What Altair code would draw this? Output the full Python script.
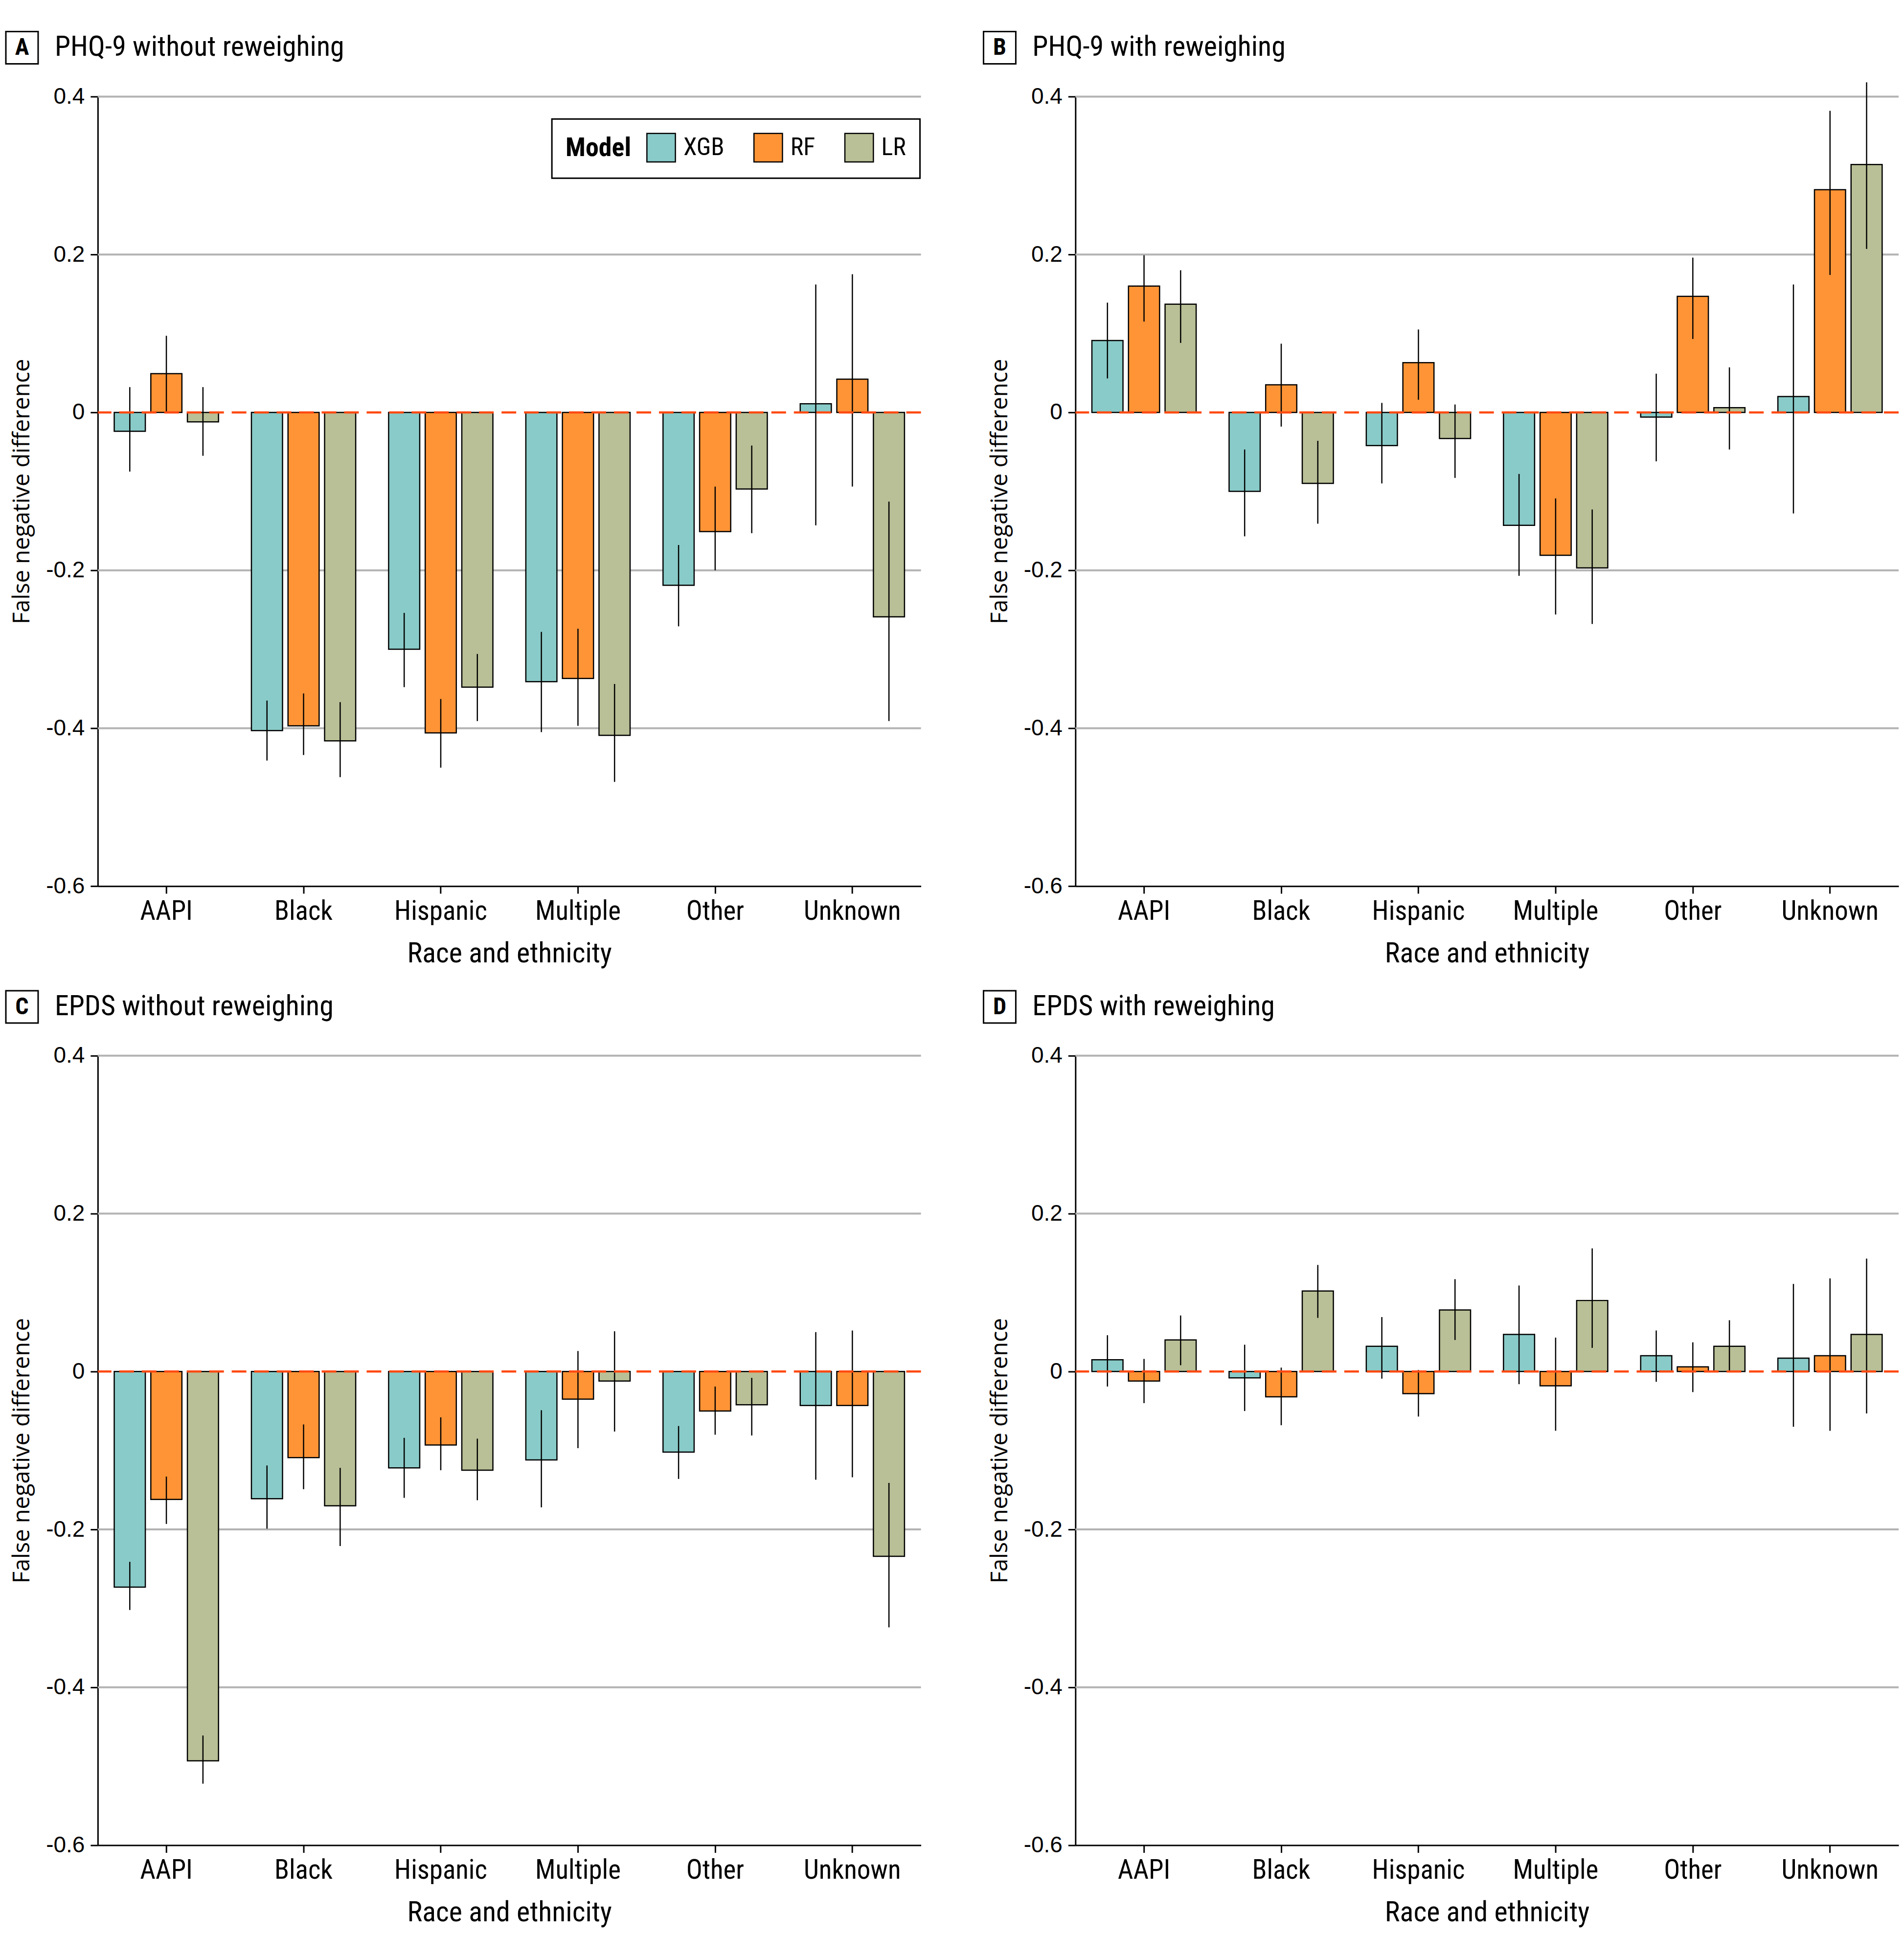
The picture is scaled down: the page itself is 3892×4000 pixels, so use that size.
import altair as alt
import pandas as pd

categories = ["AAPI", "Black", "Hispanic", "Multiple", "Other", "Unknown"]
models = ["XGB", "RF", "LR"]
colors = ["#89CBC8", "#FF9436", "#B9BF96"]
y_ticks = [-0.6, -0.4, -0.2, 0, 0.2, 0.4]
grid_values = [0.4, 0.2, -0.2, -0.4]

# Panel A: PHQ-9 without reweighing
a_xgb = [-0.024, -0.403, -0.300, -0.341, -0.219, 0.011]
a_xgb_lo = [-0.075, -0.441, -0.348, -0.405, -0.271, -0.143]
a_xgb_hi = [0.032, -0.365, -0.254, -0.278, -0.168, 0.162]
a_rf = [0.049, -0.397, -0.406, -0.337, -0.151, 0.042]
a_rf_lo = [0.000, -0.434, -0.450, -0.397, -0.200, -0.094]
a_rf_hi = [0.097, -0.356, -0.363, -0.274, -0.094, 0.175]
a_lr = [-0.012, -0.416, -0.348, -0.409, -0.097, -0.259]
a_lr_lo = [-0.055, -0.462, -0.391, -0.468, -0.153, -0.391]
a_lr_hi = [0.032, -0.367, -0.306, -0.344, -0.042, -0.113]

# Panel B: PHQ-9 with reweighing
b_xgb = [0.091, -0.100, -0.042, -0.143, -0.006, 0.020]
b_xgb_lo = [0.043, -0.157, -0.090, -0.207, -0.062, -0.128]
b_xgb_hi = [0.139, -0.047, 0.012, -0.078, 0.049, 0.162]
b_rf = [0.160, 0.035, 0.063, -0.181, 0.147, 0.282]
b_rf_lo = [0.115, -0.018, 0.016, -0.256, 0.093, 0.174]
b_rf_hi = [0.199, 0.087, 0.105, -0.109, 0.196, 0.382]
b_lr = [0.137, -0.090, -0.033, -0.197, 0.006, 0.314]
b_lr_lo = [0.088, -0.141, -0.083, -0.268, -0.047, 0.207]
b_lr_hi = [0.180, -0.036, 0.010, -0.123, 0.057, 0.418]

# Panel C: EPDS without reweighing
c_xgb = [-0.273, -0.161, -0.122, -0.112, -0.102, -0.043]
c_xgb_lo = [-0.302, -0.199, -0.160, -0.172, -0.136, -0.137]
c_xgb_hi = [-0.241, -0.119, -0.084, -0.049, -0.069, 0.050]
c_rf = [-0.162, -0.109, -0.093, -0.035, -0.050, -0.043]
c_rf_lo = [-0.193, -0.149, -0.125, -0.097, -0.080, -0.134]
c_rf_hi = [-0.133, -0.067, -0.058, 0.026, -0.019, 0.052]
c_lr = [-0.493, -0.170, -0.125, -0.012, -0.042, -0.234]
c_lr_lo = [-0.522, -0.221, -0.163, -0.076, -0.081, -0.324]
c_lr_hi = [-0.461, -0.122, -0.085, 0.051, -0.008, -0.141]

# Panel D: EPDS with reweighing
d_xgb = [0.015, -0.008, 0.032, 0.047, 0.020, 0.017]
d_xgb_lo = [-0.019, -0.050, -0.009, -0.016, -0.013, -0.070]
d_xgb_hi = [0.046, 0.034, 0.069, 0.109, 0.052, 0.111]
d_rf = [-0.012, -0.032, -0.028, -0.018, 0.006, 0.020]
d_rf_lo = [-0.040, -0.068, -0.057, -0.075, -0.026, -0.075]
d_rf_hi = [0.016, 0.005, 0.002, 0.043, 0.037, 0.118]
d_lr = [0.040, 0.102, 0.078, 0.090, 0.032, 0.047]
d_lr_lo = [0.008, 0.068, 0.040, 0.030, 0.000, -0.053]
d_lr_hi = [0.071, 0.135, 0.117, 0.156, 0.065, 0.143]

panels = [
    ("A", "PHQ-9 without reweighing",
     {"XGB": (a_xgb, a_xgb_lo, a_xgb_hi), "RF": (a_rf, a_rf_lo, a_rf_hi), "LR": (a_lr, a_lr_lo, a_lr_hi)}),
    ("B", "PHQ-9 with reweighing",
     {"XGB": (b_xgb, b_xgb_lo, b_xgb_hi), "RF": (b_rf, b_rf_lo, b_rf_hi), "LR": (b_lr, b_lr_lo, b_lr_hi)}),
    ("C", "EPDS without reweighing",
     {"XGB": (c_xgb, c_xgb_lo, c_xgb_hi), "RF": (c_rf, c_rf_lo, c_rf_hi), "LR": (c_lr, c_lr_lo, c_lr_hi)}),
    ("D", "EPDS with reweighing",
     {"XGB": (d_xgb, d_xgb_lo, d_xgb_hi), "RF": (d_rf, d_rf_lo, d_rf_hi), "LR": (d_lr, d_lr_lo, d_lr_hi)}),
]

COND = "Liberation Sans Narrow, Roboto Condensed, DejaVu Sans Condensed, Arial Narrow, sans-serif"
W, H = 1684, 1615


def y_axis():
    return alt.Axis(
        values=y_ticks, grid=False, title="False negative difference",
        labelExpr="datum.value == 0 ? '0' : (datum.value < 0 ? '-' + format(-datum.value, '.1f') : format(datum.value, '.1f'))",
        labelFont="Liberation Sans", labelFontSize=46, labelColor="black", labelPadding=12,
        tickSize=15, tickWidth=3, tickColor="black",
        domainColor="black", domainWidth=3,
        titleFont="Open Sans", titleFontSize=47, titleFontWeight="normal", titleColor="black",
        titlePadding=24,
    )


def make_panel(letter, title, series, show_legend):
    rows = []
    for m in models:
        v, lo, hi = series[m]
        for c, vv, l, h in zip(categories, v, lo, hi):
            rows.append({"cat": c, "model": m, "val": vv, "lo": l, "hi": h})
    df = pd.DataFrame(rows)

    yscale = alt.Scale(domain=[-0.6, 0.4], nice=False)
    xscale = alt.Scale(paddingInner=0.24, paddingOuter=0.12)
    xaxis = alt.Axis(
        title="Race and ethnicity", labelAngle=0, labelLimit=600,
        labelFont=COND, labelFontSize=55, labelColor="black", labelPadding=10,
        tickSize=15, tickWidth=3, tickColor="black",
        domainColor="black", domainWidth=3,
        titleFont=COND, titleFontSize=58, titleFontWeight="normal", titleColor="black",
        titlePadding=30,
    )
    x = alt.X("cat:N", sort=categories, scale=xscale, axis=xaxis)
    xo = alt.XOffset("model:N", sort=models, scale=alt.Scale(paddingInner=0.15, paddingOuter=0))

    if show_legend:
        legend = alt.Legend(
            title="Model", orient="none", legendX=929, legendY=46,
            direction="horizontal", titleOrient="left",
            titleFont=COND, titleFontSize=54, titleFontWeight="bold", titleColor="black",
            titlePadding=30,
            labelFont=COND, labelFontSize=50, labelColor="black", labelOffset=15,
            symbolType="square", symbolSize=3400, symbolStrokeColor="black",
            symbolStrokeWidth=2.5, columnPadding=55, padding=28,
            fillColor="white", strokeColor="black",
        )
    else:
        legend = None

    color = alt.Color("model:N", sort=models,
                      scale=alt.Scale(domain=models, range=colors),
                      legend=legend)

    grid = alt.Chart(pd.DataFrame({"g": grid_values})).mark_rule(
        color="#B3B3B3", strokeWidth=4
    ).encode(y=alt.Y("g:Q", scale=yscale, axis=y_axis()))

    bars = alt.Chart(df).mark_bar(stroke="black", strokeWidth=2.5).encode(
        x=x, xOffset=xo,
        y=alt.Y("val:Q", scale=yscale, axis=y_axis()),
        color=color,
    )

    errs = alt.Chart(df).mark_rule(color="black", strokeWidth=2.5).encode(
        x=x, xOffset=xo,
        y=alt.Y("lo:Q", scale=yscale, axis=y_axis()),
        y2="hi:Q",
    )

    zero = alt.Chart(pd.DataFrame({"z": [0.0]})).mark_rule(
        color="#FF4A12", strokeWidth=4.5, strokeDash=[30, 16]
    ).encode(y=alt.Y("z:Q", scale=yscale, axis=y_axis()))

    one = pd.DataFrame({"letter": [letter], "title": [title]})
    box = alt.Chart(one).mark_rect(fill="white", stroke="black", strokeWidth=3).encode(
        x=alt.value(-188), x2=alt.value(-122), y=alt.value(-133), y2=alt.value(-67)
    )
    letter_txt = alt.Chart(one).mark_text(
        font=COND, fontSize=48, fontWeight="bold", align="center",
        baseline="middle", color="black"
    ).encode(x=alt.value(-155), y=alt.value(-99), text="letter:N")
    title_txt = alt.Chart(one).mark_text(
        font=COND, fontSize=58, align="left", baseline="middle", color="black"
    ).encode(x=alt.value(-88), y=alt.value(-100), text="title:N")

    return alt.layer(grid, bars, errs, zero, box, letter_txt, title_txt).properties(
        width=W, height=H
    )


charts = [make_panel(l, t, s, i == 0) for i, (l, t, s) in enumerate(panels)]

chart = alt.concat(
    *charts, columns=2, spacing={"row": 347, "column": 316}, bounds="flush"
).resolve_scale(color="independent").properties(
    padding={"top": 53, "left": 2, "right": 0, "bottom": 10}
).configure_view(stroke="transparent").configure_legend(strokeWidth=3)

chart.save("out.html", embed_options={"renderer": "svg", "actions": False})
